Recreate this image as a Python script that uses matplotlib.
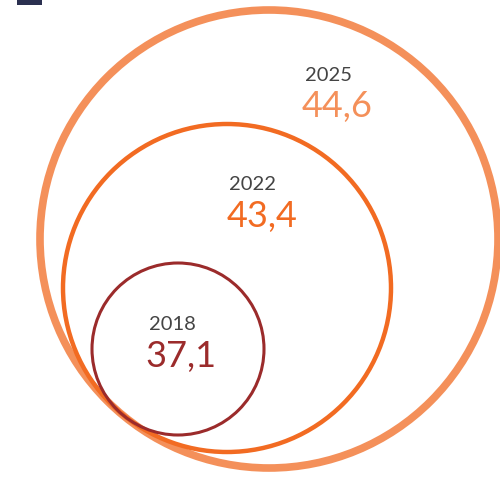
import matplotlib.pyplot as plt
from matplotlib.patches import Circle, Rectangle

years = ["2018", "2022", "2025"]
values = [37.1, 43.4, 44.6]
colors = ["#9B2B2B", "#F26B22", "#F4905A"]

# circle layout in pixel space (x, y, radius, line width)
layout = [
    (178, 349, 86, 2.2),
    (227, 288, 164, 3.2),
    (269, 239, 229, 5.5),
]
label_pos = [(172, 325), (253, 185), (328, 75)]

fig = plt.figure(figsize=(5.0, 4.79), dpi=100)
ax = fig.add_axes([0, 0, 1, 1])
ax.set_xlim(0, 500)
ax.set_ylim(479, 0)
ax.set_aspect("equal")
ax.axis("off")

# piece of a dark title mark cut off at the top-left
ax.add_patch(Rectangle((17, -5), 25, 10, color="#2B3050", lw=0))

for (x, y, r, lw), c in zip(layout[::-1], colors[::-1]):
    ax.add_patch(Circle((x, y), r, fill=False, ec=c, lw=lw))

for yr, v, c, (x, y) in zip(years, values, colors, label_pos):
    ax.text(x, y, yr, ha="center", va="center", fontsize=14.5,
            family="Lato", color="#444444")
    ax.text(x + 9, y + 31, f"{v:.1f}".replace(".", ","), ha="center",
            va="center", fontsize=26, family="Lato", color=c)

fig.savefig("out.png", dpi=100)
